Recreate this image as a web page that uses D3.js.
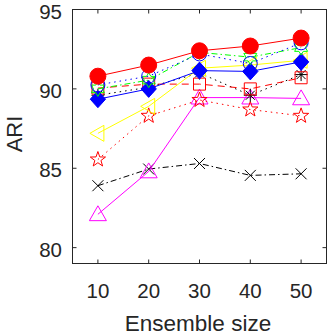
<!DOCTYPE html>
<html>
<head>
<meta charset="utf-8">
<script src="https://cdn.jsdelivr.net/npm/d3@7"></script>
<style>
  body { margin: 0; background: #fff; }
  text { font-family: "Liberation Sans", Arial, sans-serif; fill: #262626; }
</style>
</head>
<body>
<svg id="svg"></svg>
<script>
const sizes = [10, 20, 30, 40, 50];
const xTicks = [10, 20, 30, 40, 50];
const yTicks = [80, 85, 90, 95];

const blackX = [83.9, 84.95, 85.3, 84.55, 84.65];
const magentaTri = [82.1, 84.8, 89.45, 89.45, 89.4];
const redPent = [85.55, 88.3, 89.3, 88.7, 88.3];
const blackStar = [89.6, 90.1, 91.0, 89.6, 90.9];
const redSquare = [90.05, 90.3, 90.3, 90.0, 90.7];
const yellowTri = [87.2, 88.9, 91.3, 91.5, 91.8];
const blueDiamond = [89.35, 90.0, 91.15, 91.1, 91.7];
const greenHex = [90.0, 90.55, 92.3, 92.0, 92.6];
const blueCircle = [90.25, 90.8, 92.2, 91.6, 92.9];
const redCircle = [90.8, 91.5, 92.4, 92.7, 93.2];

const width = 329, height = 336;
const mLeft = 72.5, mRight = 326.5, mTop = 9.5, mBottom = 263.5;

const svg = d3.select('#svg').attr('width', width).attr('height', height);

const x = d3.scaleLinear().domain([5, 55]).range([mLeft, mRight]);
const y = d3.scaleLinear().domain([79, 95]).range([mBottom, mTop]);

// marker shapes, r ~ half size in px
function star(n, r, inner) {
  const pts = [];
  for (let i = 0; i < 2 * n; i++) {
    const a = -Math.PI / 2 + i * Math.PI / n;
    const rr = i % 2 ? r * inner : r;
    pts.push([rr * Math.cos(a), rr * Math.sin(a)]);
  }
  return 'M' + pts.map(p => p.join(',')).join('L') + 'Z';
}
const shapes = {
  circle: r => `M${r},0A${r},${r},0,1,1,${-r},0A${r},${r},0,1,1,${r},0Z`,
  diamond: r => `M0,${-r}L${r * 0.9},0L0,${r}L${-r * 0.9},0Z`,
  triUp: r => `M0,${-r}L${r},${r * 0.75}L${-r},${r * 0.75}Z`,
  triLeft: r => `M${-r},0L${r * 0.75},${-r}L${r * 0.75},${r}Z`,
  square: r => `M${-r},${-r}H${r}V${r}H${-r}Z`,
  pent: r => star(5, r, 0.4),
  hex: r => star(6, r, 0.58),
  cross: r => `M${-r},${-r}L${r},${r}M${-r},${r}L${r},${-r}`,
  aster: r => `M0,${-r}V${r}M${-r},0H${r}M${-r * 0.7},${-r * 0.7}L${r * 0.7},${r * 0.7}M${-r * 0.7},${r * 0.7}L${r * 0.7},${-r * 0.7}`
};

const series = [
  { values: blackX, color: '#000', dash: '6,3,1.5,3', shape: 'cross', r: 5.5, fill: false },
  { values: magentaTri, color: '#ff00ff', dash: null, shape: 'triUp', r: 8.5, fill: false },
  { values: redPent, color: '#ff0000', dash: '1.5,4', shape: 'pent', r: 8, fill: false },
  { values: blackStar, color: '#000', dash: '1.5,4', shape: 'aster', r: 6.5, fill: false },
  { values: redSquare, color: '#ff0000', dash: '7,5', shape: 'square', r: 6, fill: false },
  { values: yellowTri, color: '#ffff00', dash: null, shape: 'triLeft', r: 8, fill: false },
  { values: blueDiamond, color: '#0000ff', dash: null, shape: 'diamond', r: 8.5, fill: true },
  { values: greenHex, color: '#00ff00', dash: '6,3,1.5,3', shape: 'hex', r: 7.5, fill: false },
  { values: blueCircle, color: '#0000ff', dash: '1.5,4', shape: 'circle', r: 7, fill: false },
  { values: redCircle, color: '#ff0000', dash: null, shape: 'circle', r: 8, fill: true }
];

const line = d3.line().x((d, i) => x(sizes[i])).y(d => y(d));

// axes box
const axisColor = '#262626';
svg.append('rect')
  .attr('x', mLeft).attr('y', mTop)
  .attr('width', mRight - mLeft).attr('height', mBottom - mTop)
  .attr('fill', 'none').attr('stroke', axisColor).attr('stroke-width', 1);

const tickLen = 4;
xTicks.forEach(t => {
  svg.append('line').attr('x1', x(t)).attr('x2', x(t)).attr('y1', mBottom).attr('y2', mBottom - tickLen).attr('stroke', axisColor);
  svg.append('line').attr('x1', x(t)).attr('x2', x(t)).attr('y1', mTop).attr('y2', mTop + tickLen).attr('stroke', axisColor);
  svg.append('text').attr('x', x(t)).attr('y', 298).attr('text-anchor', 'middle')
    .attr('font-size', 20.5).text(t);
});
yTicks.forEach(t => {
  svg.append('line').attr('x1', mLeft).attr('x2', mLeft + tickLen).attr('y1', y(t)).attr('y2', y(t)).attr('stroke', axisColor);
  svg.append('line').attr('x1', mRight).attr('x2', mRight - tickLen).attr('y1', y(t)).attr('y2', y(t)).attr('stroke', axisColor);
  svg.append('text').attr('x', 62).attr('y', y(t) + 9).attr('text-anchor', 'end')
    .attr('font-size', 20.5).text(t);
});

svg.append('text').attr('x', 198).attr('y', 330.5).attr('text-anchor', 'middle')
  .attr('font-size', 22.5).text('Ensemble size');
svg.append('text').attr('transform', 'translate(22,134) rotate(-90)').attr('text-anchor', 'middle')
  .attr('font-size', 22).text('ARI');

const plot = svg.append('g');
series.forEach(s => {
  plot.append('path')
    .datum(s.values)
    .attr('d', line)
    .attr('fill', 'none')
    .attr('stroke', s.color)
    .attr('stroke-width', 1)
    .attr('stroke-dasharray', s.dash);

  plot.selectAll(null)
    .data(s.values)
    .enter()
    .append('path')
    .attr('transform', (d, i) => `translate(${x(sizes[i])},${y(d)})`)
    .attr('d', shapes[s.shape](s.r))
    .attr('fill', s.fill ? s.color : 'none')
    .attr('stroke', s.color)
    .attr('stroke-width', 1);
});
</script>
</body>
</html>
